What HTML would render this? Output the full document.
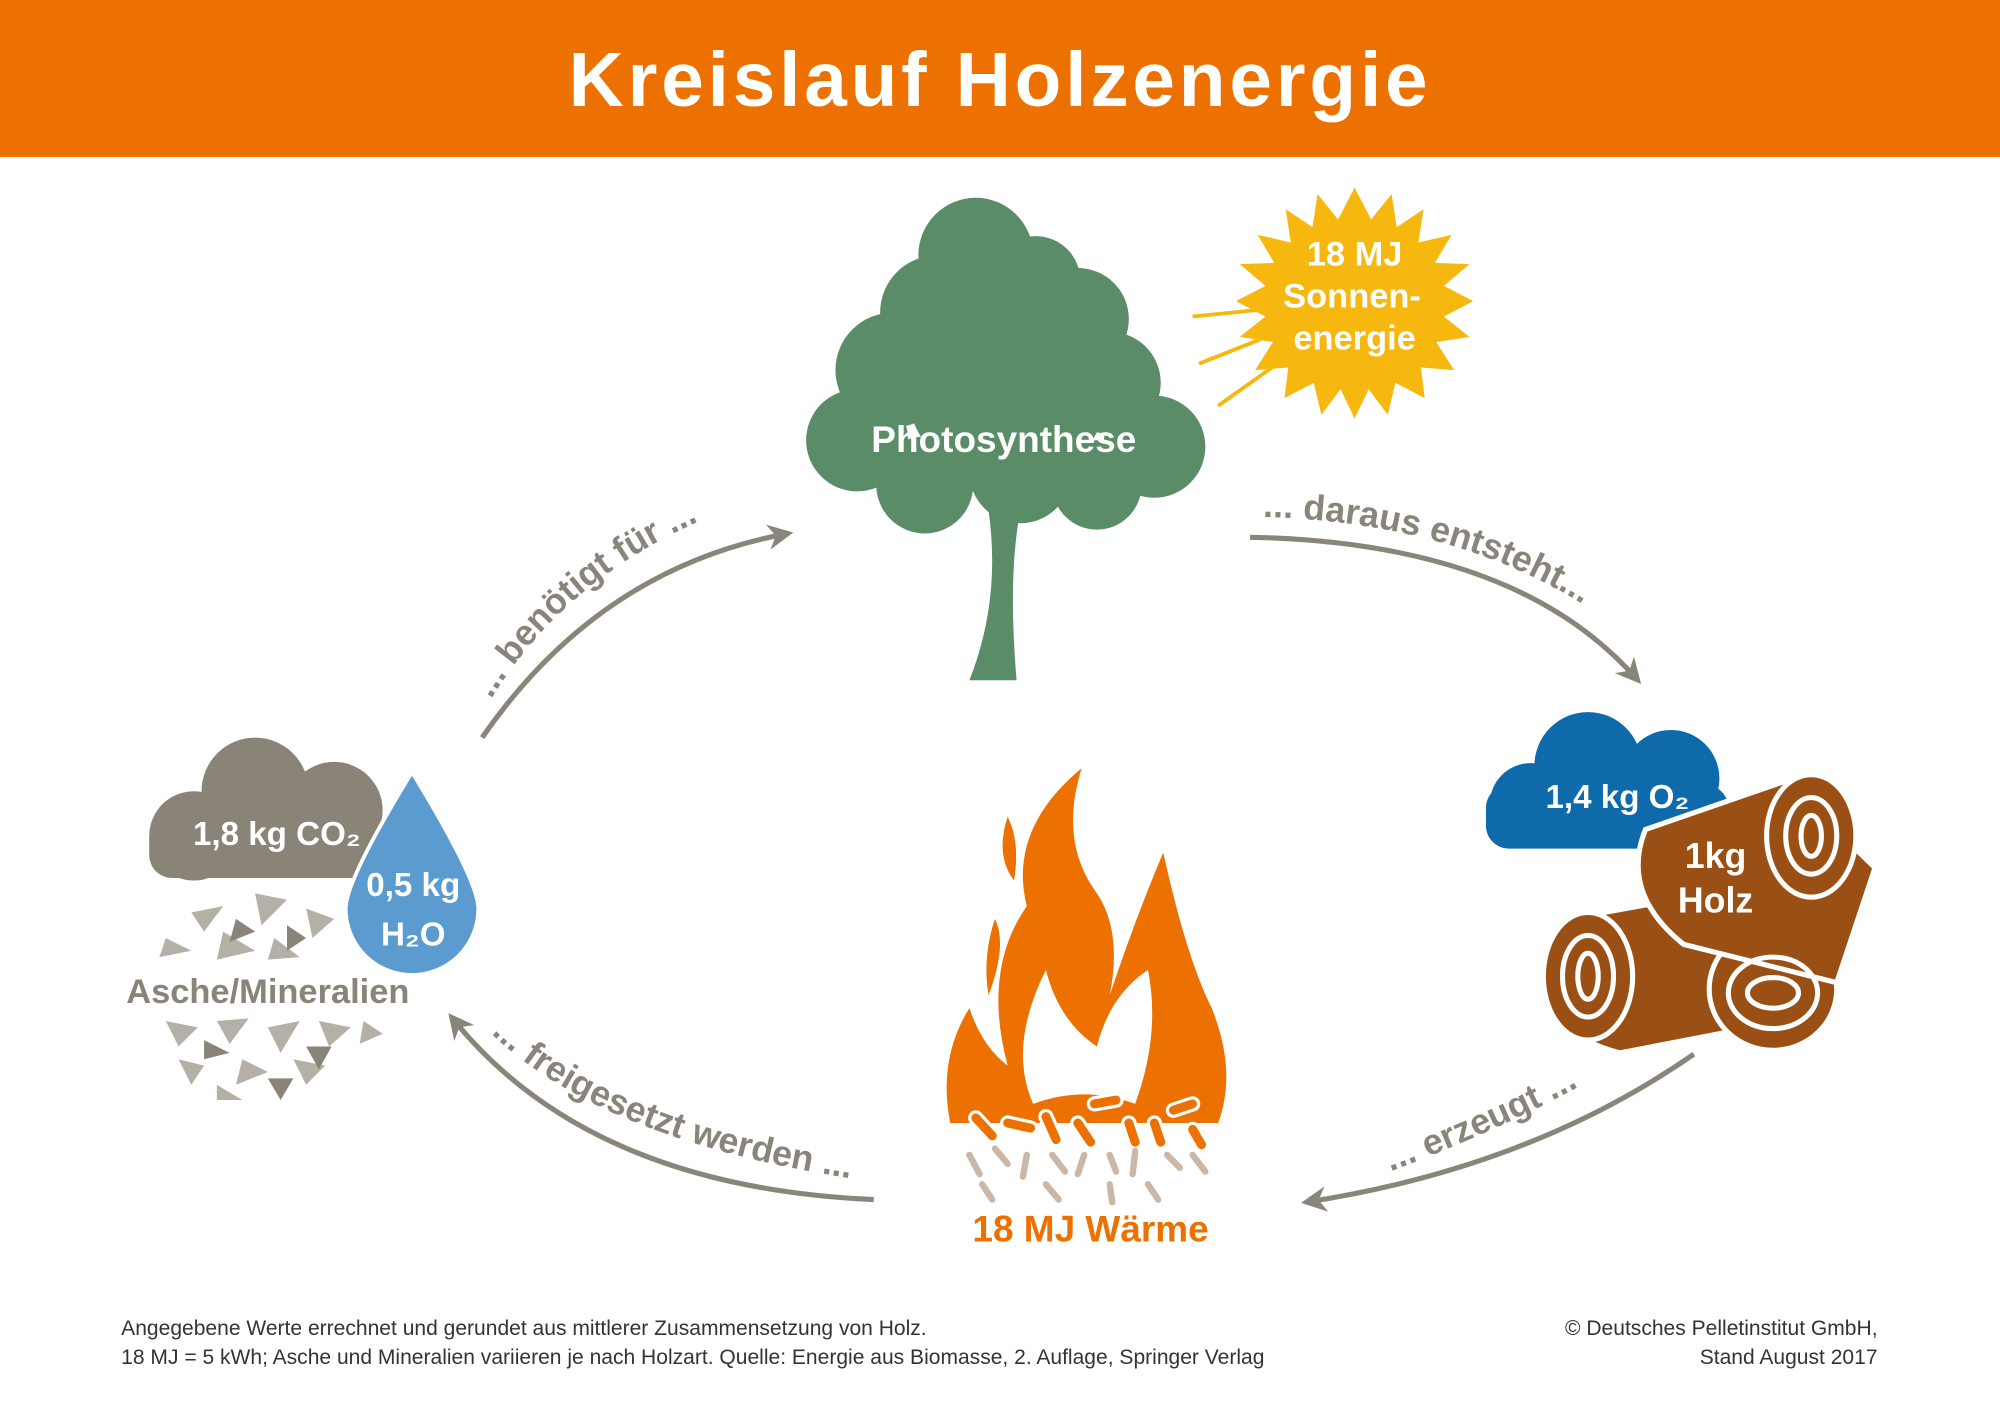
<!DOCTYPE html>
<html><head><meta charset="utf-8"><style>
html,body{margin:0;padding:0;background:#fff;}
svg{display:block;}
text{font-family:"Liberation Sans",sans-serif;}
</style></head><body>
<svg width="2000" height="1414" viewBox="0 0 1568 1108" preserveAspectRatio="none" xmlns="http://www.w3.org/2000/svg">
<defs>
<marker id="ah" viewBox="0 0 10 10" refX="8" refY="5" markerWidth="5" markerHeight="5" orient="auto"><path d="M0,0 L10,5 L0,10 L3,5 z" fill="#8a857a"/></marker>
<path id="p1" d="M385,548 Q450,440 590,392"/>
<path id="p2" d="M990,405 Q1170,410 1285,505"/>
<path id="p3" d="M1090,918 Q1190,880 1262,838"/>
<path id="p4" d="M385,810 Q480,900 700,928"/>
</defs>
<rect width="1568" height="1108" fill="#fff"/>
<rect width="1568" height="123" fill="#ec7100"/>
<text x="784" y="83" text-anchor="middle" font-size="60" font-weight="bold" fill="#fff" letter-spacing="3">Kreislauf Holzenergie</text>

<!-- tree -->
<g fill="#5a8c68">
<circle cx="765" cy="200" r="45"/><circle cx="812" cy="220" r="35"/><circle cx="735" cy="245" r="45"/>
<circle cx="700" cy="290" r="45"/><circle cx="672" cy="345" r="40"/><circle cx="870" cy="300" r="40"/>
<circle cx="905" cy="350" r="40"/><circle cx="790" cy="300" r="80"/><circle cx="845" cy="250" r="40"/>
<circle cx="725" cy="380" r="38"/><circle cx="860" cy="380" r="35"/><circle cx="800" cy="370" r="40"/>
<path d="M775,400 L800,400 Q790,450 797,533 L760,533 Q785,470 775,400 z"/>
</g>
<text x="787" y="354" text-anchor="middle" font-size="29" font-weight="bold" fill="#fff">Photosynthese</text>

<!-- sun -->
<polygon fill="#f6b80e" points="1062,147 1075,172 1091,152 1095,178 1116,164 1112,190 1138,184 1125,206 1152,207 1132,224 1155,236 1132,248 1152,264 1126,268 1140,290 1114,288 1117,312 1094,300 1088,325 1073,305 1062,328 1051,305 1036,325 1030,300 1007,312 1010,288 984,290 998,268 972,264 992,248 969,236 992,224 972,207 999,206 986,184 1012,190 1008,164 1029,178 1033,152 1049,172"/>
<g stroke="#f6b80e" stroke-width="3"><line x1="935" y1="248" x2="985" y2="243"/><line x1="940" y1="285" x2="988" y2="266"/><line x1="955" y1="318" x2="1000" y2="286"/></g>
<g font-size="27" font-weight="bold" fill="#fff" text-anchor="middle"><text x="1062" y="208">18 MJ</text><text x="1060" y="241">Sonnen-</text><text x="1062" y="274">energie</text></g>

<!-- arrows -->
<g fill="none" stroke="#8a857a" stroke-width="4" marker-end="url(#ah)">
<path d="M378,578 Q470,445 618,418"/>
<path d="M980,421 Q1190,425 1284,533"/>
<path d="M1328,826 Q1200,915 1024,942"/>
<path d="M685,940 Q460,930 354,797"/>
</g>
<g font-size="28" font-weight="bold" fill="#8a857a">
<text><textPath href="#p1">... benötigt für ...</textPath></text>
<text><textPath href="#p2">... daraus entsteht...</textPath></text>
<text><textPath href="#p3">... erzeugt ...</textPath></text>
<text><textPath href="#p4">... freigesetzt werden ...</textPath></text>
</g>

<!-- gray cloud -->
<g fill="#8a8478"><circle cx="200" cy="620" r="42"/><circle cx="262" cy="635" r="38"/><circle cx="152" cy="655" r="35"/><rect x="117" y="640" width="185" height="48" rx="18"/></g>
<text x="217" y="662" text-anchor="middle" font-size="26" font-weight="bold" fill="#fff">1,8 kg CO₂</text>
<g fill="#b5b0a5">
<polygon points="150,715 175,710 160,730"/><polygon points="200,700 225,705 205,725"/><polygon points="240,712 262,720 245,735"/>
<polygon points="130,735 150,745 125,750"/><polygon points="175,730 200,745 170,752"/><polygon points="215,735 235,750 210,752"/>
<polygon points="130,800 155,805 140,820"/><polygon points="170,800 195,798 180,818"/><polygon points="210,805 235,800 220,825"/>
<polygon points="250,800 275,805 258,820"/><polygon points="285,800 300,810 282,818"/><polygon points="140,830 160,835 150,850"/>
<polygon points="190,830 210,840 185,850"/><polygon points="230,830 255,835 240,850"/><polygon points="170,850 190,862 170,862"/>
</g>
<g fill="#8a8478"><polygon points="185,720 200,730 180,738"/><polygon points="225,725 240,735 225,745"/><polygon points="160,815 180,825 160,830"/><polygon points="240,820 260,820 250,838"/><polygon points="210,845 230,845 220,862"/></g>
<text x="210" y="786" text-anchor="middle" font-size="27" font-weight="bold" fill="#8a8478">Asche/Mineralien</text>
<path d="M323,605 Q375,690 375,712 A52,52 0 0 1 271,712 Q271,690 323,605 z" fill="#5b9bd0" stroke="#fff" stroke-width="3"/>
<g font-size="26" font-weight="bold" fill="#fff" text-anchor="middle"><text x="324" y="702">0,5 kg</text><text x="324" y="741">H₂O</text></g>

<!-- blue cloud -->
<g fill="#0f6aab"><circle cx="1245" cy="600" r="42"/><circle cx="1310" cy="610" r="38"/><circle cx="1200" cy="630" r="32"/><rect x="1165" y="615" width="190" height="50" rx="18"/></g>
<text x="1268" y="633" text-anchor="middle" font-size="26" font-weight="bold" fill="#fff">1,4 kg O₂</text>

<!-- logs -->
<g fill="#9a5014" stroke="#fff" stroke-width="4">
<path d="M1230,720 L1340,700 L1400,800 L1270,825 Q1210,810 1215,760 z"/>
<ellipse cx="1390" cy="775" rx="50" ry="48"/>
<ellipse cx="1245" cy="765" rx="35" ry="50"/>
<path d="M1290,650 L1400,612 L1470,680 L1440,770 L1320,740 Q1270,700 1290,650 z"/>
<ellipse cx="1420" cy="655" rx="35" ry="48"/>
</g>
<g fill="none" stroke="#fff" stroke-width="4">
<ellipse cx="1420" cy="655" rx="20" ry="30"/><ellipse cx="1420" cy="655" rx="8" ry="16"/>
<ellipse cx="1245" cy="765" rx="20" ry="32"/><ellipse cx="1245" cy="765" rx="8" ry="18"/>
<ellipse cx="1390" cy="778" rx="35" ry="28"/><ellipse cx="1390" cy="778" rx="20" ry="12"/>
</g>
<g font-size="28" font-weight="bold" fill="#fff" text-anchor="middle"><text x="1345" y="680">1kg</text><text x="1345" y="715">Holz</text></g>

<!-- flame -->
<g fill="#ec7100">
<path d="M745,880 Q735,830 760,790 Q770,820 790,835 Q770,760 805,710 Q790,650 848,602 Q830,660 860,700 Q880,730 870,780 Q890,720 912,668 Q930,750 950,790 Q970,840 955,880 L745,880 z"/>
<path d="M790,640 Q800,660 795,690 Q780,670 790,640 z"/>
<path d="M780,720 Q790,740 775,780 Q770,750 780,720 z"/>
</g>
<path d="M810,865 Q790,820 820,760 Q830,800 860,820 Q870,780 900,760 Q910,810 890,865 Q850,850 810,865 z" fill="#fff"/>
<g stroke="#fff" stroke-width="12" stroke-linecap="round">
<line x1="765" y1="876" x2="778" y2="890"/><line x1="790" y1="880" x2="808" y2="884"/><line x1="820" y1="875" x2="828" y2="893"/>
<line x1="845" y1="880" x2="855" y2="895"/><line x1="858" y1="865" x2="875" y2="862"/><line x1="885" y1="880" x2="890" y2="895"/>
<line x1="905" y1="880" x2="910" y2="895"/><line x1="920" y1="870" x2="935" y2="865"/><line x1="935" y1="885" x2="942" y2="897"/>
</g>
<g stroke="#ec7100" stroke-width="7" stroke-linecap="round">
<line x1="765" y1="876" x2="778" y2="890"/><line x1="790" y1="880" x2="808" y2="884"/><line x1="820" y1="875" x2="828" y2="893"/>
<line x1="845" y1="880" x2="855" y2="895"/><line x1="858" y1="865" x2="875" y2="862"/><line x1="885" y1="880" x2="890" y2="895"/>
<line x1="905" y1="880" x2="910" y2="895"/><line x1="920" y1="870" x2="935" y2="865"/><line x1="935" y1="885" x2="942" y2="897"/>
</g>
<g stroke="#c9b7a8" stroke-width="5" stroke-linecap="round">
<line x1="760" y1="905" x2="768" y2="920"/><line x1="780" y1="900" x2="790" y2="912"/><line x1="805" y1="905" x2="802" y2="922"/>
<line x1="825" y1="905" x2="835" y2="918"/><line x1="850" y1="905" x2="845" y2="920"/><line x1="870" y1="905" x2="875" y2="918"/>
<line x1="890" y1="902" x2="888" y2="920"/><line x1="915" y1="905" x2="925" y2="915"/><line x1="935" y1="905" x2="945" y2="918"/>
<line x1="770" y1="928" x2="778" y2="940"/><line x1="820" y1="928" x2="830" y2="940"/><line x1="870" y1="928" x2="872" y2="942"/><line x1="900" y1="928" x2="908" y2="940"/>
</g>
<text x="855" y="973" text-anchor="middle" font-size="29" font-weight="bold" fill="#ec7100">18 MJ Wärme</text>

<!-- footer -->
<g font-size="16.5" fill="#333">
<text x="95" y="1046">Angegebene Werte errechnet und gerundet aus mittlerer Zusammensetzung von Holz.</text>
<text x="95" y="1069">18 MJ = 5 kWh; Asche und Mineralien variieren je nach Holzart. Quelle: Energie aus Biomasse, 2. Auflage, Springer Verlag</text>
<text x="1472" y="1046" text-anchor="end">© Deutsches Pelletinstitut GmbH,</text>
<text x="1472" y="1069" text-anchor="end">Stand August 2017</text>
</g>
</svg>
</body></html>
